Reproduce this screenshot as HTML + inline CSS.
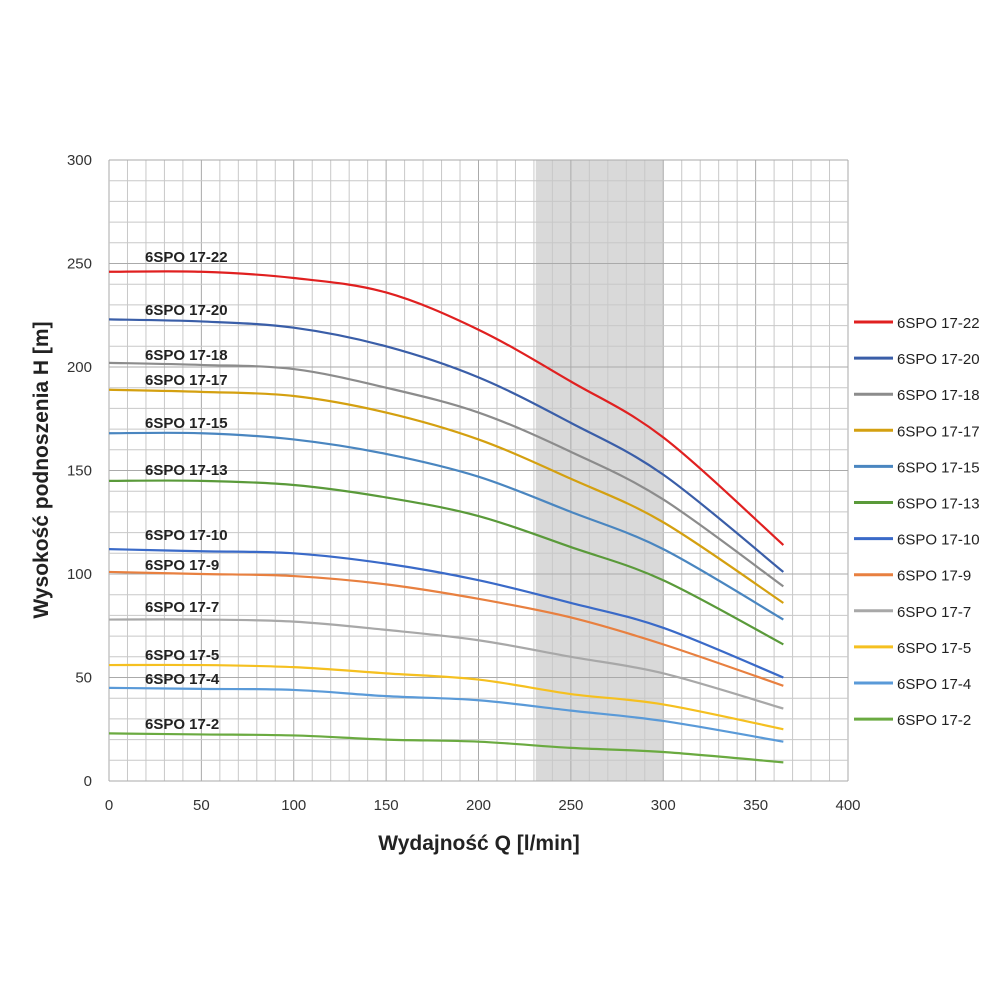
<!DOCTYPE html>
<html><head><meta charset="utf-8"><style>
html,body{margin:0;padding:0;background:#fff;}
svg text{font-family:"Liberation Sans",sans-serif;}
</style></head><body>
<svg id="s" width="1000" height="1000" xmlns="http://www.w3.org/2000/svg"></svg>
<script>
const s=document.getElementById('s');
const X=q=>109+q*1.8475, Y=h=>781-h*2.07;
let o='';
o+=`<rect x="${X(231)}" y="${Y(300)}" width="${X(300)-X(231)}" height="${Y(0)-Y(300)}" fill="#d9d9d9"/>`;
for(let q=0;q<=400;q+=10){o+=`<line x1="${X(q)}" x2="${X(q)}" y1="${Y(300)}" y2="${Y(0)}" stroke="${q%50?'#c8c8c8':'#aaaaaa'}" stroke-width="1"/>`;}
for(let h=0;h<=300;h+=10){o+=`<line x1="${X(0)}" x2="${X(400)}" y1="${Y(h)}" y2="${Y(h)}" stroke="${h%50?'#c8c8c8':'#aaaaaa'}" stroke-width="1"/>`;}
for(let q=0;q<=400;q+=50)o+=`<text x="${X(q)}" y="810" font-size="15" text-anchor="middle" fill="#333">${q}</text>`;
for(let h=0;h<=300;h+=50)o+=`<text x="92" y="${Y(h)+5}" font-size="15" text-anchor="end" fill="#333">${h}</text>`;
const qs=[0,50,100,150,200,250,300,365];
const S=[
['6SPO 17-22','#e02020',[246,246,243,236,218,193,166,114],262],
['6SPO 17-20','#3a5ea8',[223,222,219,210,195,173,148,101],315],
['6SPO 17-18','#8c8c8c',[202,201,199,190,178,159,136,94],360],
['6SPO 17-17','#d4a010',[189,188,186,178,165,146,125,86],385],
['6SPO 17-15','#4a86c0',[168,168,165,158,147,130,112,78],428],
['6SPO 17-13','#5a9a3a',[145,145,143,137,128,113,97,66],475],
['6SPO 17-10','#3a6ac8',[112,111,110,105,97,86,74,50],540],
['6SPO 17-9','#e88040',[101,100,99,95,88,79,66,46],570],
['6SPO 17-7','#a8a8a8',[78,78,77,73,68,60,52,35],612],
['6SPO 17-5','#f5c020',[56,56,55,52,49,42,37,25],660],
['6SPO 17-4','#5a9ad8',[45,44.5,44,41,39,34,29,19],684],
['6SPO 17-2','#6aaa40',[23,22.5,22,20,19,16,14,9],729]];
function path(v){const p=qs.map((q,i)=>[X(q),Y(v[i])]);let d=`M${p[0][0]},${p[0][1]}`;
for(let i=0;i<p.length-1;i++){const p0=p[i-1]||p[i],p1=p[i],p2=p[i+1],p3=p[i+2]||p2;
d+=` C${p1[0]+(p2[0]-p0[0])/6},${p1[1]+(p2[1]-p0[1])/6} ${p2[0]-(p3[0]-p1[0])/6},${p2[1]-(p3[1]-p1[1])/6} ${p2[0]},${p2[1]}`;}return d;}
S.forEach((c,i)=>{o+=`<path d="${path(c[2])}" fill="none" stroke="${c[1]}" stroke-width="2.2"/>`;
o+=`<text x="145" y="${c[3]}" font-size="15" font-weight="bold" fill="#222">${c[0]}</text>`;
const ly=322+i*36.1;o+=`<line x1="854" x2="893" y1="${ly}" y2="${ly}" stroke="${c[1]}" stroke-width="3"/>`;
o+=`<text x="897" y="${ly+6}" font-size="15" fill="#222">${c[0]}</text>`;});
o+=`<text x="479" y="850" font-size="21" font-weight="bold" text-anchor="middle" fill="#222">Wydajność Q [l/min]</text>`;
o+=`<text transform="translate(48,470) rotate(-90)" font-size="21" font-weight="bold" text-anchor="middle" fill="#222">Wysokość podnoszenia H [m]</text>`;
s.innerHTML=o;
</script>
</body></html>
